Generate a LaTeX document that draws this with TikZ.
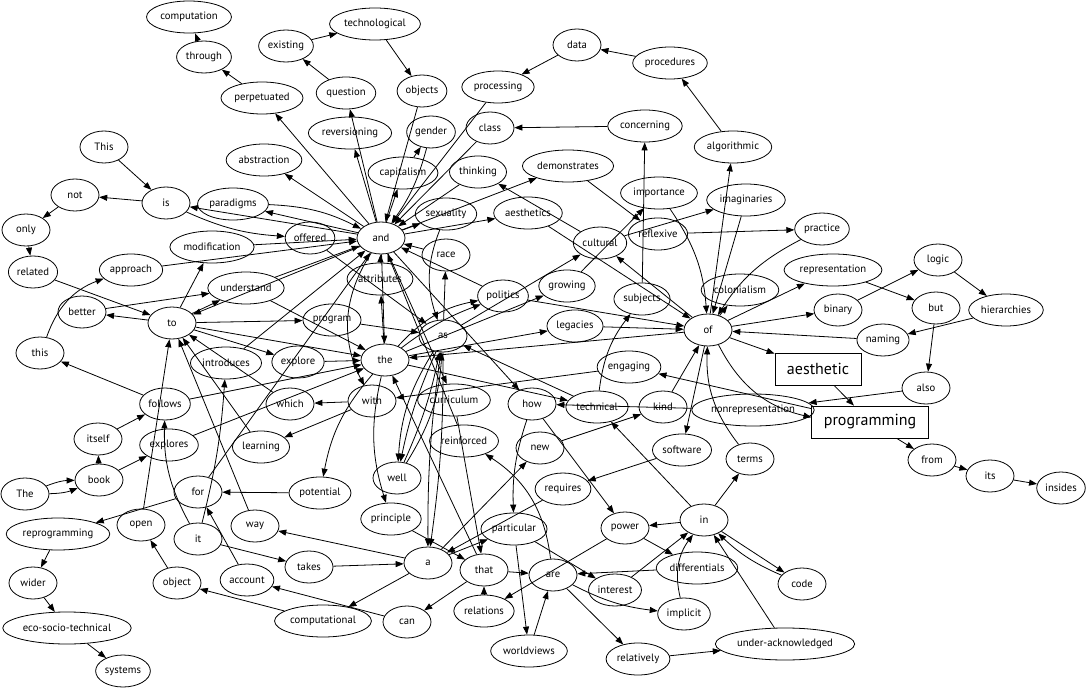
\documentclass[tikz,border=0pt]{standalone}
\usepackage{fontspec}
\setmainfont{PT Sans}
\usetikzlibrary{shapes.geometric}
\usetikzlibrary{arrows.meta}

\begin{document}
\begin{tikzpicture}[x=0.75pt,y=-0.75pt]
\useasboundingbox (0,0) rectangle (1089,688);
\begin{scope}[every node/.style={ellipse,draw,line width=0.6pt,minimum width=36pt,minimum height=24pt,inner xsep=1pt,inner ysep=1pt,font=\fontsize{8}{9}\selectfont}]
    \node (computation) at (189,17) {computation};
    \node (through) at (204,57) {through};
    \node (technological) at (375,24) {technological};
    \node (existing) at (286,46) {existing};
    \node (data) at (577,45) {data};
    \node (procedures) at (670,63) {procedures};
    \node (processing) at (498,87) {processing};
    \node (perpetuated) at (262,98) {perpetuated};
    \node (question) at (346,93) {question};
    \node (objects) at (422,91) {objects};
    
    \node (reversioning) at (350,133) {reversioning};
    \node (gender) at (431,132) {gender};
    \node (class) at (490,128) {class};
    \node (concerning) at (645,126) {concerning};
    \node (algorithmic) at (733,147) {algorithmic};
    \node (This) at (104,147) {This};
    \node (abstraction) at (264,160) {abstraction};
    \node (capitalism) at (403,173) {capitalism};
    \node (thinking) at (478,172) {thinking};
    \node (demonstrates) at (568,166) {demonstrates};
    
    \node (importance) at (659,193) {importance};
    \node (imaginaries) at (746,200) {imaginaries};
    \node (not) at (75,195) {not};
    \node (is) at (166,203) {is};
    \node (paradigms) at (233,204) {paradigms};
    \node (sexuality) at (446,214) {sexuality};
    \node (aesthetics) at (528,213) {aesthetics};
    \node (reflexive) at (658,234) {reflexive};
    \node (practice) at (822,229) {practice};
    \node (only) at (26,230) {only};
    \node (offered) at (310,238) {offered};
    \node (and) at (381,238) {and};
    \node (cultural) at (600,243) {cultural};
    \node (modification) at (212,247) {modification};
    \node (race) at (446,255) {race};
    
    \node (representation) at (833,270) {representation};
    \node (logic) at (938,260) {logic};
    \node (related) at (33,272) {related};
    \node (approach) at (131,270) {approach};
    \node (attributes) at (380,279) {attributes};
    \node (growing) at (567,286) {growing};
    \node (understand) at (246,288) {understand};
    \node (politics) at (503,296) {politics};
    \node (subjects) at (642,299) {subjects};
    \node (colonialism) at (740,290) {colonialism};
    \node (binary) at (838,310) {binary};
    \node (but) at (936,308) {but};
    \node (hierarchies) at (1006,310) {hierarchies};
    
    \node (better) at (82,312) {better};
    \node (to) at (172,323) {to};
    \node (program) at (332,320) {program};
    \node (legacies) at (575,326) {legacies};
    \node (of) at (708,330) {of};
    \node (as) at (443,336) {as};
    \node (naming) at (883,340) {naming};
    \node (this) at (40,353) {this};
    \node (the) at (385,360) {the};
    \node (introduces) at (226,363) {introduces};
    \node (explore) at (298,362) {explore};
    \node (engaging) at (629,367) {engaging};
    \node[rectangle,inner xsep=9pt,font=\fontsize{12}{14}\selectfont] (aesthetic) at (818,369) {aesthetic};
    \node (also) at (926,388) {also};
    
    \node (follows) at (165,404) {follows};
    \node (which) at (290,404) {which};
    \node (with) at (372,401) {with};
    \node (curriculum) at (454,400) {curriculum};
    \node (how) at (532,404) {how};
    \node (technical) at (597,407) {technical};
    \node (kind) at (663,407) {kind};
    \node (nonrepresentation) at (753,410) {nonrepresentation};
    \node[rectangle,inner xsep=9pt,font=\fontsize{12}{14}\selectfont] (programming) at (870,422) {programming};
    
    \node (itself) at (98,439) {itself};
    \node (explores) at (169,445) {explores};
    \node (learning) at (261,447) {learning};
    \node (reinforced) at (464,441) {reinforced};
    \node (new) at (540,448) {new};
    \node (software) at (682,450) {software};
    \node (terms) at (750,459) {terms};
    \node (from) at (932,460) {from};
    \node (well) at (397,478) {well};
    \node (its) at (990,476) {its};
    \node (book) at (99,480) {book};
    \node (The) at (25,494) {The};
    \node (for) at (198,492) {for};
    \node (potential) at (320,493) {potential};
    \node (requires) at (563,489) {requires};
    \node (insides) at (1061,488) {insides};
    
    \node (principle) at (391,519) {principle};
    \node (in) at (704,520) {in};
    \node (open) at (141,525) {open};
    \node (way) at (255,526) {way};
    \node (power) at (625,528) {power};
    \node (particular) at (514,529) {particular};
    \node (reprogramming) at (58,534) {reprogramming};
    \node (it) at (198,539) {it};
    \node (a) at (428,563) {a};
    \node (takes) at (309,567) {takes};
    \node (that) at (484,570) {that};
    \node (are) at (553,575) {are};
    \node (differentials) at (697,568) {differentials};
    
    \node (wider) at (33,583) {wider};
    \node (object) at (177,583) {object};
    \node (account) at (247,580) {account};
    \node (code) at (802,584) {code};
    \node (interest) at (615,590) {interest};
    \node (relations) at (484,611) {relations};
    \node (implicit) at (684,614) {implicit};
    \node (computational) at (323,621) {computational};
    \node (can) at (407,622) {can};
    \node (eco) at (67,628) {eco-socio-technical};
    \node (uack) at (785,644) {under-acknowledged};
    \node (worldviews) at (529,651) {worldviews};
    \node (relatively) at (638,659) {relatively};
    \node (systems) at (123,671) {systems};
\end{scope}

\begin{scope}[>={Triangle[length=6pt,width=4.5pt]},line width=0.6pt]
     \draw [->] (The) to[bend left=10] (book);
     \draw [->] (book) -- (explores);
     \draw [->] (explores) -- (the);
     \draw [->] (the) -- (technical);
     \draw [->] (technical) -- (as);
     \draw [->] (as) to[bend right=6] (well);
     \draw [->] (well) to[bend right=6] (as);
     \draw [->] (as) -- (cultural);
     \draw [->] (cultural) -- (imaginaries);
     \draw [->] (imaginaries) -- (of);
     \draw [->] (of) to[bend right=25] (programming);
     \draw [->] (programming) -- (from);
     \draw [->] (from) -- (its);
     \draw [->] (its) -- (insides);
     
     \draw [->] (it) to[bend left=15] (follows);
     \draw [->] (follows) -- (the);
     \draw [->] (the) to[bend right=15] (principle);
     \draw [->] (principle) -- (that);
     \draw [->] (that) -- (the);
     \draw [->] (the) -- (growing);
     \draw [->] (growing) -- (importance);
     \draw [->] (importance) to[bend left=15] (of);
     \draw [->] (of) -- (software);
     \draw [->] (software) -- (requires);
     \draw [->] (requires) -- (a);
     \draw [->] (a) -- (new);
     \draw [->] (new) -- (kind);
     \draw [->] (kind) -- (of);
     \draw [->] (of) -- (cultural);
     \draw [->] (cultural) -- (thinking);
     \draw [->] (thinking) -- (and);
     \draw [->] (and) -- (curriculum);
     \draw [->] (curriculum) -- (that);
     \draw [->] (that) -- (can);
     \draw [->] (can) -- (account);
     \draw [->] (account) -- (for);
     \draw [->] (for) -- (and);
     \draw [->] (and) to[bend right=30] (with);
     \draw [->] (with) -- (which);
     \draw [->] (which) -- (to);
     \draw [->] (to) -- (better);
     \draw [->] (better) -- (understand);
     \draw [->] (understand) -- (the);
     \draw [->] (the) to[bend left=18] (politics);
     \draw [->] (politics) -- (and);
     \draw [->] (and) -- (aesthetics);
     \draw [->] (aesthetics) -- (of);
     \draw [->] (of) -- (algorithmic);
     \draw [->] (algorithmic) -- (procedures);
     \draw [->] (procedures) -- (data);
     \draw [->] (data) -- (processing);
     \draw [->] (processing) -- (and);
     \draw [->] (and) -- (abstraction);
     
     \draw [->] (it) -- (takes);
     \draw [->] (takes) -- (a);
     \draw [->] (a) -- (particular);
     \draw [->] (particular) -- (interest);
     \draw [->] (interest) -- (in);
     \draw [->] (in) -- (power);
     \draw [->] (power) -- (relations);
     \draw [->] (relations) -- (that);
     \draw [->] (that) -- (are);
     \draw [->] (are) -- (relatively);
     \draw [->] (relatively) -- (uack);
     \draw [->] (uack) -- (in);
     \draw [->] (in) -- (technical);
     \draw [->] (technical) to[bend left=15] (subjects);
     \draw [->] (subjects) -- (concerning);
     \draw [->] (concerning) -- (class);
     \draw [->] (class) -- (and);
     \draw [->] (and) -- (capitalism);
     \draw [->] (capitalism) -- (gender);
     \draw [->] (gender) to[bend left=10] (and);
     \draw [->] (and) -- (sexuality);
     \draw [->] (sexuality) to[bend right=20] (as);
     \draw [->] (as) to[bend right=14] (well);
     \draw [->] (well) to[bend right=14] (as);
     \draw [->] (as) -- (race);
     \draw [->] (race) -- (and);
     \draw [->] (and) -- (the);
     \draw [->] (the) -- (legacies);
     \draw [->] (legacies) -- (of);
     \draw [->] (of) -- (colonialism);
     
     \draw [->] (This) -- (is);
     \draw [->] (is) -- (not);
     \draw [->] (not) -- (only);
     \draw [->] (only) -- (related);
     \draw [->] (related) -- (to);
     \draw [->] (to) -- (the);
     \draw [->] (the) to[bend left=8] (politics);
     \draw [->] (politics) -- (of);
     \draw [->] (of) -- (representation);
     \draw [->] (representation) -- (but);
     \draw [->] (but) -- (also);
     \draw [->] (also) -- (nonrepresentation);
     \draw [->] (nonrepresentation) -- (how);
     \draw [->] (how) -- (power);
     \draw [->] (power) -- (differentials);
     \draw [->] (differentials) -- (are);
     \draw [->] (are) to[bend right=10] (implicit);
     \draw [->] (implicit) to[bend left=25] (in);
     \draw [->] (in) -- (code);
     \draw [->] (code) to[bend left=10] (in);
     \draw [->] (in) -- (terms);
     \draw [->] (terms) to[bend left=20] (of);
     \draw [->] (of) -- (binary);
     \draw [->] (binary) -- (logic);
     \draw [->] (logic) -- (hierarchies);
     \draw [->] (hierarchies) -- (naming);
     \draw [->] (naming) -- (of);
     \draw [->] (of) -- (the);
     \draw [->] (the) -- (attributes);
     \draw [->] (attributes) -- (and);
     \draw [->] (and) -- (how);
     \draw [->] (how) to[bend right=10] (particular);
     \draw [->] (particular) -- (worldviews);
     \draw [->] (worldviews) -- (are);
     \draw [->] (are) to[bend right=25] (reinforced);
     \draw [->] (reinforced) -- (and);
     \draw [->] (and) -- (perpetuated);
     \draw [->] (perpetuated) -- (through);
     \draw [->] (through) -- (computation);
     
     \draw [->] (it) to[bend right=5] (introduces);
     \draw [->] (introduces) -- (and);
     \draw [->] (and) -- (demonstrates);
     \draw [->] (demonstrates) -- (reflexive);
     \draw [->] (reflexive) -- (practice);
     \draw [->] (practice) to[bend right=15] (of);
     \draw [->] (of) -- (aesthetic);
     \draw [->] (aesthetic) -- (programming);
     \draw [->] (programming) -- (engaging);
     \draw [->] (engaging) -- (with);
     \draw [->] (with) -- (learning);
     \draw [->] (learning) -- (to);
     \draw [->] (to) -- (program);
     \draw [->] (program) -- (as);
     \draw [->] (as) to[bend right=4] (a);
     \draw [->] (a) -- (way);
     \draw [->] (way) -- (to);
     \draw [->] (to) -- (understand);
     \draw [->] (understand) -- (and);
     \draw [->] (and) -- (question);
     \draw [->] (question) -- (existing);
     \draw [->] (existing) -- (technological);
     \draw [->] (technological) -- (objects);
     \draw [->] (objects) -- (and);
     \draw [->] (and) -- (paradigms);
     \draw [->] (paradigms) to[bend left=12] (and);
     \draw [->] (and) -- (to);
     \draw [->] (to) -- (explore);
     \draw [->] (explore) -- (the);
     \draw [->] (the) to[bend right=15] (potential);
     \draw [->] (potential) -- (for);
     \draw [->] (for) -- (reprogramming);
     \draw [->] (reprogramming) -- (wider);
     \draw [->] (wider) -- (eco);
     \draw [->] (eco) -- (systems);
     
     \draw [->] (The) to[bend right=10] (book);
     \draw [->] (book) -- (itself);
     \draw [->] (itself) -- (follows);
     \draw [->] (follows) -- (this);
     \draw [->] (this) to[bend left=25] (approach);
     \draw [->] (approach) -- (and);
     \draw [->] (and) -- (is);
     \draw [->] (is) to[bend right=10] (offered);
     \draw [->] (offered) -- (as);
     \draw [->] (as) to[bend left=4] (a);
     \draw [->] (a) -- (computational);
     \draw [->] (computational) -- (object);
     \draw [->] (object) -- (open);
     \draw [->] (open) -- (to);
     \draw [->] (to) -- (modification);
     \draw [->] (modification) -- (and);
     \draw [->] (and) -- (reversioning);
\end{scope}
\end{tikzpicture}
\end{document}
